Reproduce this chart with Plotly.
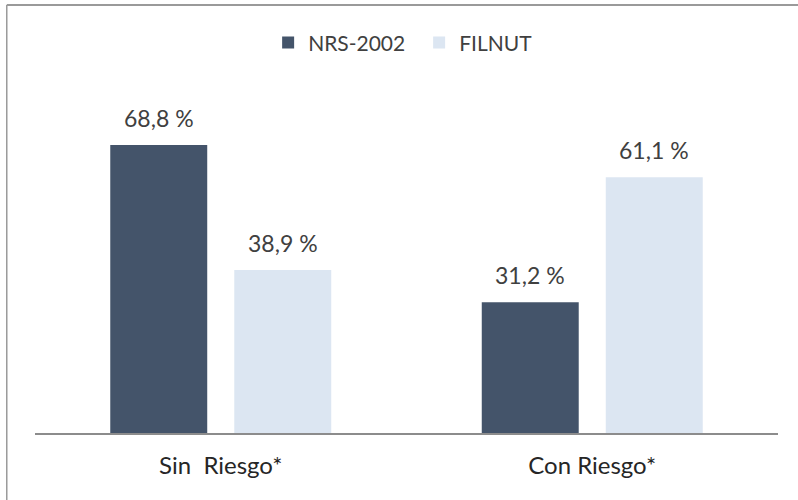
import plotly.graph_objects as go

categories = ["Sin  Riesgo*", "Con Riesgo*"]
series_names = ["NRS-2002", "FILNUT"]
nrs_values = [68.8, 31.2]
filnut_values = [38.9, 61.1]
colors = ["#44546A", "#DCE6F2"]

def fmt(v):
    return f"{v:.1f}".replace(".", ",") + " %"

FONT = "Lato, Open Sans, sans-serif"
W, H = 798, 500
ML, MR, MT, MB = 35, 20, 98, 67
BARGAP = 0.3324
BARGROUPGAP = 0.218

fig = go.Figure()
for name, vals, col in zip(series_names, [nrs_values, filnut_values], colors):
    fig.add_trace(go.Bar(
        name=name, x=categories, y=vals, marker=dict(color=col, line=dict(width=0)),
        hoverinfo="skip",
    ))

# value labels placed above each bar (offset by half a bar slot within the group)
cat_width = (W - ML - MR) / len(categories)
slot = (1 - BARGAP) * cat_width / len(series_names)
for si, vals in enumerate([nrs_values, filnut_values]):
    shift = (si - (len(series_names) - 1) / 2) * slot
    for cat, v in zip(categories, vals):
        fig.add_annotation(x=cat, y=v, xref="x", yref="y", text=fmt(v), showarrow=False,
                           xshift=shift, yshift=11, yanchor="bottom", xanchor="center",
                           font=dict(family=FONT, size=23, color="#404040"))

fig.update_layout(
    width=W, height=H,
    margin=dict(l=ML, r=MR, t=MT, b=MB),
    paper_bgcolor="white", plot_bgcolor="white",
    barmode="group", bargap=BARGAP, bargroupgap=BARGROUPGAP,
    font=dict(family=FONT, size=21, color="#404040"),
    legend=dict(orientation="h", x=0.517, xanchor="center", y=1.165, yanchor="middle",
                font=dict(size=21, color="#404040"), itemclick=False, entrywidth=106),
    showlegend=True,
    xaxis=dict(showline=True, linecolor="#8C8C8C", linewidth=1.5, ticks="",
               tickfont=dict(size=24, color="#262626"), showgrid=False, ticklabelstandoff=10),
    yaxis=dict(range=[0, 80], visible=False, showgrid=False),
)
# outer chart border (top and left visible in the reference)
fig.add_shape(type="line", xref="paper", yref="paper", x0=-0.038, x1=1.05, y0=1.2776, y1=1.2776,
              line=dict(color="#9A9A9A", width=2))
fig.add_shape(type="line", xref="paper", yref="paper", x0=-0.038, x1=-0.038, y0=-0.25, y1=1.2776,
              line=dict(color="#9A9A9A", width=1.5))

fig.write_html("out.html", config={"displayModeBar": False},
               post_script="document.body.style.margin='0';")
